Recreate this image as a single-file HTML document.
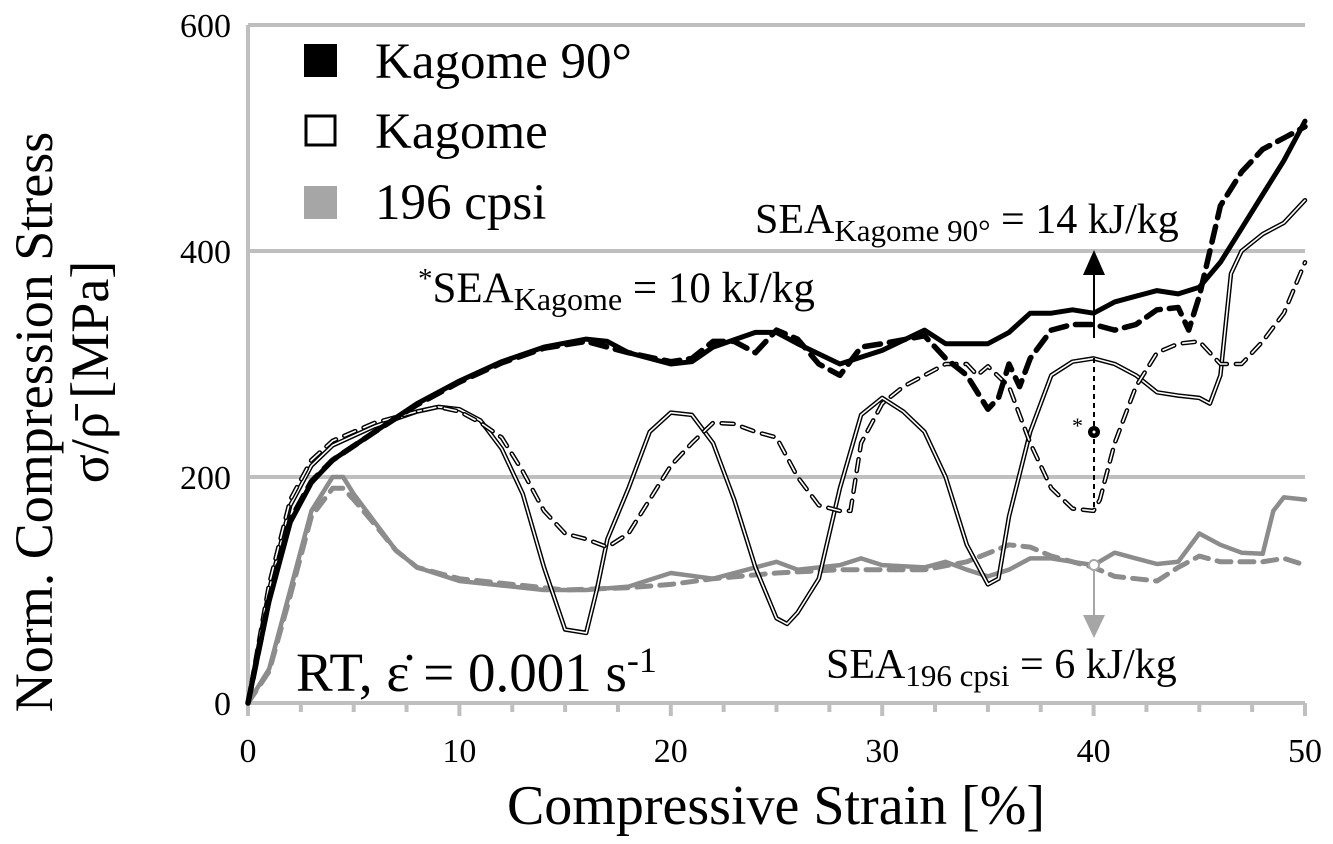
<!DOCTYPE html>
<html><head><meta charset="utf-8"><style>
body{margin:0;background:#fff}
svg{display:block;font-family:"Liberation Serif",serif}
</style></head><body>
<svg id="chart" width="1333" height="844">
<g id="grid"></g><g id="series"></g>
<g>
<line x1="1094" y1="338" x2="1094" y2="272" stroke="#000" stroke-width="2"/>
<polygon points="1083,275 1105,275 1094,250" fill="#000"/>
<line x1="1094" y1="358" x2="1094" y2="511" stroke="#000" stroke-width="2" stroke-dasharray="5 4"/>
<circle cx="1094" cy="432" r="6" fill="#000"/><circle cx="1094" cy="432" r="1.5" fill="#fff"/>
<text x="1072" y="433" font-size="22">*</text>
<line x1="1094" y1="566" x2="1094" y2="618" stroke="#a6a6a6" stroke-width="2"/>
<polygon points="1083,615 1105,615 1094,638" fill="#a6a6a6"/>
<circle cx="1094" cy="565" r="5" fill="#fff" stroke="#a6a6a6" stroke-width="2"/>
</g>
<text x="755" y="233" font-size="42">SEA<tspan font-size="31" dy="8">Kagome 90°</tspan><tspan dy="-8"> = 14 kJ/kg</tspan></text>
<text x="418" y="302" font-size="43"><tspan font-size="29" dy="-14">*</tspan><tspan dy="14">SEA</tspan><tspan font-size="32" dy="8">Kagome</tspan><tspan dy="-8"> = 10 kJ/kg</tspan></text>
<text x="826" y="678" font-size="42">SEA<tspan font-size="31" dy="8">196 cpsi</tspan><tspan dy="-8"> = 6 kJ/kg</tspan></text>
<text x="296" y="691" font-size="55">RT, ε̇ = 0.001 s<tspan font-size="36" dy="-19">-1</tspan></text>
<g>
<rect x="304" y="44" width="33" height="33" fill="#000"/>
<text x="375" y="78" font-size="51">Kagome 90°</text>
<rect x="306" y="116" width="29" height="29" fill="#fff" stroke="#000" stroke-width="3"/>
<text x="375" y="148" font-size="51">Kagome</text>
<rect x="304" y="186" width="33" height="33" fill="#a6a6a6"/>
<text x="375" y="219" font-size="51">196 cpsi</text>
</g>
<text x="776" y="824" font-size="56" text-anchor="middle">Compressive Strain [%]</text>
<text transform="translate(52,422) rotate(-90)" font-size="54" text-anchor="middle">Norm. Compression Stress</text>
<text transform="translate(108,372) rotate(-90)" font-size="54" text-anchor="middle">σ/ρ̄ [MPa]</text>
</svg>
<script>
const xTicks=[0,10,20,30,40,50];
const yTicks=[0,200,400,600];
const k90SolidX=[0,1,2,3,4,6,8,10,12,14,16,17,18,20,21,22,24,25,26,28,30,32,33,34,35,36,37,38,39,40,41,42,43,44,45,46,47,48,49,50];
const k90SolidY=[0,90,160,195,215,240,265,285,302,315,322,320,310,300,302,315,328,328,318,300,312,330,318,318,318,328,345,345,348,345,355,360,365,362,368,390,420,450,480,515];
const k90DashX=[0,1,2,3,4,6,8,10,12,14,16,18,20,21,22,23,24,25,26,27,28,29,30,32,33,34,35,35.5,36,36.5,37,38,39,40,41,42,43,44,44.5,45,45.5,46,47,48,49,50];
const k90DashY=[0,92,162,196,215,240,264,284,301,314,320,310,302,305,320,320,310,330,322,300,290,315,318,325,305,290,260,270,300,280,305,330,335,335,330,335,348,350,330,360,400,440,470,490,500,510];
const kSolidX=[0,1,2,3,4,6,8,9,10,11,12,13,14,15,16,16.5,17,18,19,20,21,22,23,24,25,25.5,26,27,28,29,30,31,32,33,34,35,35.5,36,37,38,39,40,41,42,43,44,45,45.5,46,46.5,47,48,49,50];
const kSolidY=[0,100,175,210,228,245,258,262,260,250,225,185,120,65,62,100,145,190,240,257,255,230,180,120,75,70,80,110,190,255,270,258,240,200,140,105,110,165,240,290,302,305,300,290,275,272,270,265,290,380,400,415,425,445];
const kDashX=[0,1,2,3,4,6,8,9,10,11,12,13,14,15,16,17,18,19,20,21,22,23,24,25,26,27,28,28.5,29,30,31,32,33,34,34.5,35,36,37,38,39,40,40.3,41,42,43,44,45,46,47,48,49,50];
const kDashY=[0,105,180,215,232,248,258,262,258,248,235,205,170,150,145,138,150,180,210,230,248,247,240,235,200,175,170,170,230,265,280,290,300,300,290,298,280,230,190,172,170,180,230,280,310,318,320,300,300,320,345,390];
const c196SolidX=[0,1,2,3,4,4.5,5,6,7,8,10,12,14,16,18,20,22,24,25,26,28,29,30,32,33,34,35,36,37,38,39,40,41,42,43,44,45,46,47,48,48.5,49,50];
const c196SolidY=[0,30,100,170,200,200,185,160,135,120,108,104,100,100,103,115,110,120,125,118,122,128,122,120,125,118,112,118,128,128,125,122,133,128,123,125,150,140,133,132,170,182,180];
const c196DashX=[0,1,2,3,4,4.5,5,6,7,8,10,15,18,20,22,25,28,30,32,34,36,37,38,40,41,42,43,44,45,46,48,49,50];
const c196DashY=[0,28,95,165,190,190,180,158,135,120,110,100,102,105,110,115,118,118,118,125,140,138,130,120,112,110,108,120,130,125,125,128,122];

const X=v=>248+v*21.14, Y=v=>703-v*1.13;
const NS="http://www.w3.org/2000/svg";
function mk(tag,parent,attrs){const e=document.createElementNS(NS,tag);for(const k in attrs)e.setAttribute(k,attrs[k]);parent.appendChild(e);return e;}
const grid=document.getElementById('grid'),ser=document.getElementById('series');
yTicks.forEach(t=>{if(t===0)return;const l=mk('line',grid,{x1:248,x2:1305,y1:Y(t),y2:Y(t),stroke:'#bfbfbf','stroke-width':4});

});
let ax=mk('line',grid,{x1:248,x2:248,y1:Y(0),y2:Y(600),stroke:'#bfbfbf','stroke-width':4});


ax=mk('line',grid,{x1:248,x2:1305,y1:703,y2:703,stroke:'#bfbfbf','stroke-width':4});


for(let v=0;v<=50;v+=2.5){const major=v%10===0;const t=mk('line',grid,{x1:X(v),x2:X(v),y1:703,y2:major?716:712,stroke:'#bfbfbf','stroke-width':4});

}
xTicks.forEach(t=>{const e=mk('text',grid,{x:X(t),y:762,'font-size':34,'text-anchor':'middle'});e.textContent=t;

});
yTicks.forEach(t=>{const e=mk('text',grid,{x:231,y:Y(t)+12,'font-size':34,'text-anchor':'end'});e.textContent=t;

});
function pts(xs,ys){return xs.map((x,i)=>X(x).toFixed(1)+','+Y(ys[i]).toFixed(1)).join(' ');}
function line(name,xs,ys,stroke,w,dash){const p=mk('polyline',ser,{points:pts(xs,ys),fill:'none',stroke:stroke,'stroke-width':w,'stroke-linejoin':'round','stroke-linecap':'round'});if(dash)p.setAttribute('stroke-dasharray',dash);

return p;}
line('line-196-dashed',c196DashX,c196DashY,'#8c8c8c',5,'14 9');
line('line-196-solid',c196SolidX,c196SolidY,'#8c8c8c',4.5);
line('line-kagome-solid-outline',kSolidX,kSolidY,'#000',4.5);
line('line-kagome-solid',kSolidX,kSolidY,'#fff',1.6);
line('line-kagome-dashed-outline',kDashX,kDashY,'#000',4.5,'12 9');
line('line-kagome-dashed',kDashX,kDashY,'#fff',1.6,'12 9');
line('line-kagome90-dashed',k90DashX,k90DashY,'#000',5.5,'16 9');
line('line-kagome90-solid',k90SolidX,k90SolidY,'#000',5);
</script>
</body></html>
